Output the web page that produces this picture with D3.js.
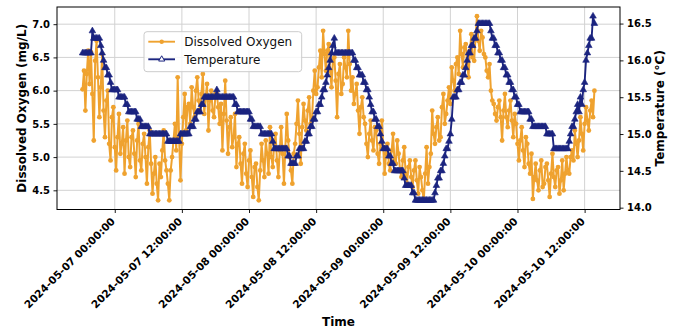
<!DOCTYPE html>
<html><head><meta charset="utf-8">
<script src="https://cdn.jsdelivr.net/npm/d3@7"></script>
<style>
body{margin:0;background:#fff}
svg{display:block}
text{font-family:"DejaVu Sans",sans-serif}
</style>
</head><body>
<svg id="chart" width="676" height="328"></svg>
<script>
// ---- data ----
const startTime = "2024-05-06 18:15:00";
const stepMinutes = 15;

const doValues = [
  6.02,6.30, 5.70,6.25, 6.60,6.10, 6.58,5.95, 5.25,6.45, 6.75,6.20, 5.60,6.05, 6.55,5.70, 5.30,5.85, 6.00,5.20, 4.95,5.60, 5.75,5.15,
  4.80,5.30, 5.65,5.05, 5.20,5.45, 4.75,5.25, 5.55,5.00, 4.85,5.30, 5.40,5.05, 4.70,5.25, 5.50,4.95, 4.80,5.20, 5.35,5.00, 4.60,5.15,
  5.40,4.90, 4.45,4.75, 5.00,4.60, 4.35,4.90, 4.70,5.10, 5.40,4.95, 4.80,4.60, 4.35,4.80, 5.00,5.25, 5.50,5.10, 6.20,5.30, 4.65,5.20,
  5.60,5.95, 5.40,5.75, 5.80,5.50, 6.05,5.75, 5.60,6.00, 6.20,5.85, 5.70,5.95, 6.25,5.65, 5.90,6.10, 5.40,5.85, 6.00,5.70, 5.60,5.95,
  5.95,5.75, 5.50,5.80, 5.10,5.65, 6.15,5.55, 5.05,5.45, 5.60,5.15, 5.30,5.65, 4.85,5.20, 5.30,4.90, 4.60,5.05, 5.20,4.75, 4.55,4.95,
  5.10,4.70, 4.40,4.85, 4.90,4.55, 4.35,4.80, 5.20,4.95, 4.70,5.25, 5.05,4.75, 5.45,5.00, 4.85,5.20, 5.35,4.95, 4.70,5.10, 5.45,5.05,
  4.60,5.15, 5.65,5.25, 5.00,4.80, 4.60,5.05, 5.20,5.50, 5.85,5.35, 4.90,5.45, 5.80,5.55, 5.40,5.70, 5.90,5.50, 5.55,6.00, 6.30,5.95,
  6.05,6.35, 6.60,6.20, 6.90,6.55, 6.30,6.60, 6.70,6.30, 6.05,6.45, 6.50,6.15, 5.60,6.25, 6.40,5.95, 6.10,6.50, 6.35,6.20, 6.90,6.40,
  6.00,6.20, 5.80,5.95, 6.10,5.70, 5.35,5.75, 5.90,5.60, 5.50,5.20, 5.00,5.35, 5.55,5.25, 5.10,5.45, 5.40,5.05, 4.90,5.20, 5.55,5.15,
  4.75,5.05, 5.20,4.90, 4.80,5.10, 5.35,4.95, 4.90,5.25, 5.05,4.80, 4.70,4.95, 5.15,4.75, 4.60,4.85, 4.95,4.70, 4.55,4.80, 4.95,4.65,
  4.45,4.85, 4.70,4.50, 4.35,4.75, 5.15,4.60, 4.85,5.05, 5.70,5.35, 5.20,5.45, 5.60,5.25, 5.30,5.75, 5.95,5.50, 5.65,5.85, 6.05,5.80,
  6.35,6.15, 6.00,6.40, 6.50,6.25, 6.90,6.55, 6.35,6.65, 6.70,6.40, 6.20,6.60, 6.85,6.50, 6.45,6.80, 7.12,6.75, 6.60,6.90, 6.80,6.55,
  6.50,6.30, 6.20,6.40, 6.00,5.85, 5.80,5.65, 5.55,5.75, 5.85,5.60, 5.25,5.70, 5.95,5.60, 5.45,5.70, 5.85,5.55, 5.30,5.65, 5.50,5.20,
  4.95,5.25, 5.45,5.10, 4.85,5.30, 5.20,4.90, 4.75,5.05, 4.37,4.70, 4.90,4.65, 4.50,4.80, 4.95,4.55, 4.60,4.85, 4.90,4.65, 4.40,4.75,
  5.05,4.70, 4.55,4.80, 4.85,4.45, 4.65,4.95, 4.50,4.75, 5.00,4.80, 4.75,5.00, 5.10,4.95, 5.40,5.20, 5.00,5.25, 5.60,5.35, 5.10,5.50,
  5.75,5.55, 5.40,5.70, 5.85,5.60, 6.00
];

const tempValues = [
  16.1,16.1,16.1,16.1,16.1,16.1,16.1,16.4,16.3,16.3,16.3,16.3,16.3,16.2,16.1,16.0,15.9,15.9,15.8,15.8,15.7,15.6,15.6,15.6,
  15.6,15.6,15.5,15.5,15.5,15.5,15.5,15.4,15.4,15.3,15.3,15.3,15.3,15.3,15.3,15.2,15.2,15.2,15.1,15.1,15.1,15.1,15.1,15.1,
  15.0,15.0,15.0,15.0,15.0,15.0,15.0,15.0,15.0,15.0,15.0,15.0,15.0,14.9,14.9,14.9,14.9,14.9,14.9,14.9,14.9,14.9,15.0,15.0,
  15.0,15.0,15.0,15.0,15.0,15.1,15.1,15.1,15.2,15.2,15.3,15.3,15.3,15.4,15.4,15.5,15.5,15.5,15.5,15.5,15.5,15.5,15.5,15.5,
  15.6,15.5,15.5,15.5,15.5,15.5,15.5,15.5,15.5,15.5,15.5,15.5,15.5,15.4,15.4,15.3,15.3,15.3,15.3,15.3,15.3,15.3,15.3,15.3,
  15.2,15.2,15.1,15.1,15.1,15.1,15.1,15.1,15.0,15.0,15.0,15.0,15.0,15.0,15.0,15.0,14.9,14.8,14.8,14.8,14.8,14.8,14.8,14.8,
  14.8,14.8,14.8,14.7,14.7,14.6,14.6,14.6,14.6,14.7,14.7,14.8,14.8,14.8,14.8,14.9,14.9,15.0,15.0,15.1,15.1,15.2,15.2,15.3,
  15.3,15.4,15.4,15.5,15.6,15.6,15.7,15.8,15.9,16.0,16.1,16.2,16.3,16.1,16.1,16.1,16.1,16.1,16.1,16.1,16.1,16.1,16.1,16.1,
  16.1,16.1,16.0,16.0,15.9,15.9,15.8,15.8,15.8,15.7,15.7,15.6,15.6,15.5,15.4,15.3,15.3,15.2,15.2,15.1,15.1,15.0,14.9,14.8,
  14.8,14.8,14.8,14.7,14.7,14.6,14.6,14.5,14.5,14.5,14.5,14.5,14.5,14.5,14.4,14.3,14.3,14.3,14.3,14.3,14.2,14.2,14.1,14.1,
  14.1,14.1,14.1,14.1,14.1,14.1,14.1,14.1,14.1,14.1,14.1,14.1,14.2,14.3,14.4,14.4,14.5,14.5,14.6,14.7,14.8,14.8,14.9,15.0,
  15.2,15.5,15.5,15.5,15.6,15.6,15.7,15.7,15.8,15.8,15.9,16.0,16.1,16.1,16.2,16.2,16.3,16.3,16.4,16.5,16.5,16.5,16.5,16.5,
  16.5,16.5,16.5,16.5,16.4,16.3,16.3,16.2,16.2,16.1,16.1,16.0,16.0,15.9,15.9,15.8,15.8,15.7,15.7,15.6,15.6,15.5,15.5,15.4,
  15.4,15.3,15.3,15.3,15.3,15.3,15.3,15.3,15.2,15.2,15.1,15.1,15.1,15.1,15.1,15.1,15.1,15.1,15.1,15.1,15.0,15.0,15.0,15.0,
  15.0,14.8,14.8,14.8,14.8,14.8,14.8,14.8,14.8,14.8,14.8,14.8,14.9,15.0,15.1,15.1,15.2,15.3,15.4,15.3,15.5,15.4,15.6,15.7,
  16.0,16.1,16.2,16.3,16.3,16.6,16.5
];

const xTickLabels = [
  "2024-05-07 00:00:00", "2024-05-07 12:00:00",
  "2024-05-08 00:00:00", "2024-05-08 12:00:00",
  "2024-05-09 00:00:00", "2024-05-09 12:00:00",
  "2024-05-10 00:00:00", "2024-05-10 12:00:00"
];
const doTicks = [4.5, 5.0, 5.5, 6.0, 6.5, 7.0];
const tempTicks = [14.0, 14.5, 15.0, 15.5, 16.0, 16.5];
const seriesNames = ["Dissolved Oxygen", "Temperature"];

// ---- chart ----
const W = 676, H = 328;
const plot = {left: 57, right: 620, top: 7, bottom: 209.5};
const colDO = "#efa22f", colT = "#1b247f";
const parse = d3.timeParse("%Y-%m-%d %H:%M:%S");
const t0 = parse(startTime);
const times = doValues.map((_, i) => d3.timeMinute.offset(t0, i * stepMinutes));
const dataDO = times.map((t, i) => ({t, v: doValues[i]}));
const dataT = times.map((t, i) => ({t, v: tempValues[i]}));

function padded(ext) { const r = ext[1] - ext[0]; return [ext[0] - 0.05 * r, ext[1] + 0.05 * r]; }
const tExt = d3.extent(times).map(d => +d);
const x = d3.scaleTime().domain(padded(tExt).map(d => new Date(d))).range([plot.left, plot.right]);
const yDO = d3.scaleLinear().domain(padded(d3.extent(doValues))).range([plot.bottom, plot.top]);
const yT = d3.scaleLinear().domain(padded(d3.extent(tempValues))).range([plot.bottom, plot.top]);

const svg = d3.select("#chart");
svg.append("rect").attr("width", W).attr("height", H).attr("fill", "#fff");

// grid
const grid = svg.append("g");
const xTickDates = xTickLabels.map(parse);
grid.selectAll(".gx").data(xTickDates).join("line")
  .attr("x1", d => x(d)).attr("x2", d => x(d))
  .attr("y1", plot.top).attr("y2", plot.bottom)
  .attr("stroke", "#d2d2d2").attr("stroke-width", 1);
grid.selectAll(".gy").data(doTicks).join("line")
  .attr("x1", plot.left).attr("x2", plot.right)
  .attr("y1", d => yDO(d)).attr("y2", d => yDO(d))
  .attr("stroke", "#d2d2d2").attr("stroke-width", 1);

svg.append("clipPath").attr("id", "clip").append("rect")
  .attr("x", plot.left).attr("y", plot.top)
  .attr("width", plot.right - plot.left).attr("height", plot.bottom - plot.top);

// DO series
const gDO = svg.append("g").attr("clip-path", "url(#clip)");
gDO.append("path").datum(dataDO)
  .attr("d", d3.line().x(d => x(d.t)).y(d => yDO(d.v)))
  .attr("fill", "none").attr("stroke", colDO).attr("stroke-width", 2)
  .attr("stroke-linejoin", "round");
gDO.selectAll("circle").data(dataDO).join("circle")
  .attr("cx", d => x(d.t)).attr("cy", d => yDO(d.v)).attr("r", 2.4)
  .attr("fill", colDO);

// Temperature series
const gT = svg.append("g").attr("clip-path", "url(#clip)");
gT.append("path").datum(dataT)
  .attr("d", d3.line().x(d => x(d.t)).y(d => yT(d.v)))
  .attr("fill", "none").attr("stroke", colT).attr("stroke-width", 1.9)
  .attr("stroke-linejoin", "round");
const tri = d3.symbol().type(d3.symbolTriangle).size(19);
gT.selectAll("path.m").data(dataT).join("path").attr("class", "m")
  .attr("d", tri)
  .attr("transform", d => `translate(${x(d.t)},${yT(d.v)})`)
  .attr("fill", colT).attr("stroke", colT).attr("stroke-width", 0.6);

// spines
svg.append("rect").attr("x", plot.left).attr("y", plot.top)
  .attr("width", plot.right - plot.left).attr("height", plot.bottom - plot.top)
  .attr("fill", "none").attr("stroke", "#000").attr("stroke-width", 1);

function styleAxis(g, size) {
  g.select(".domain").remove();
  g.selectAll(".tick line").attr("stroke", "#000").attr("stroke-width", 0.9);
  g.selectAll(".tick text").attr("fill", "#000")
    .attr("font-family", "DejaVu Sans").attr("font-weight", "bold").attr("font-size", size);
}

// x axis
const fmt = d3.timeFormat("%Y-%m-%d %H:%M:%S");
const gx = svg.append("g").attr("transform", `translate(0,${plot.bottom})`)
  .call(d3.axisBottom(x).tickValues(xTickDates).tickFormat(fmt).tickSize(3.5).tickPadding(3.5).tickSizeOuter(0));
styleAxis(gx, 10.5);
gx.selectAll(".tick text")
  .attr("x", 0).attr("y", 0).attr("dy", 0)
  .attr("text-anchor", "end")
  .attr("transform", "translate(0.5,12.5) rotate(-45)");

// left axis
const gl = svg.append("g").attr("transform", `translate(${plot.left},0)`)
  .call(d3.axisLeft(yDO).tickValues(doTicks).tickFormat(d3.format(".1f")).tickSize(3.5).tickPadding(3.5).tickSizeOuter(0));
styleAxis(gl, 10);

// right axis
const gr = svg.append("g").attr("transform", `translate(${plot.right},0)`)
  .call(d3.axisRight(yT).tickValues(tempTicks).tickFormat(d3.format(".1f")).tickSize(3.5).tickPadding(3.5).tickSizeOuter(0));
styleAxis(gr, 10);

// axis labels
const midY = (plot.top + plot.bottom) / 2;
svg.append("text").attr("transform", `translate(26.3,${midY}) rotate(-90)`)
  .attr("text-anchor", "middle").attr("font-weight", "bold").attr("font-size", 12)
  .text("Dissolved Oxygen (mg/L)");
svg.append("text").attr("transform", `translate(663.8,${midY}) rotate(-90)`)
  .attr("text-anchor", "middle").attr("font-weight", "bold").attr("font-size", 12)
  .text("Temperature (°C)");
svg.append("text").attr("x", (plot.left + plot.right) / 2).attr("y", 325.5)
  .attr("text-anchor", "middle").attr("font-weight", "bold").attr("font-size", 12)
  .text("Time");

// legend
const lg = svg.append("g").attr("transform", "translate(144,31.7)");
lg.append("rect").attr("width", 157.7).attr("height", 40).attr("rx", 3)
  .attr("fill", "#fff").attr("fill-opacity", 0.8).attr("stroke", "#cccccc").attr("stroke-width", 1);
const items = [
  {name: seriesNames[0], color: colDO, y: 10, marker: "circle"},
  {name: seriesNames[1], color: colT, y: 27.6, marker: "tri"}
];
items.forEach(it => {
  lg.append("line").attr("x1", 4.3).attr("x2", 31).attr("y1", it.y).attr("y2", it.y)
    .attr("stroke", it.color).attr("stroke-width", 1.9);
  if (it.marker === "circle") {
    lg.append("circle").attr("cx", 17.7).attr("cy", it.y).attr("r", 2.2).attr("fill", it.color);
  } else {
    lg.append("path").attr("d", d3.symbol().type(d3.symbolTriangle).size(16)).attr("transform", `translate(17.7,${it.y})`)
      .attr("fill", "#fff").attr("stroke", it.color).attr("stroke-width", 1);
  }
  lg.append("text").attr("x", 40.3).attr("y", it.y + 4.4).attr("font-size", 12).attr("fill", "#111")
    .text(it.name);
});
</script>
</body></html>
